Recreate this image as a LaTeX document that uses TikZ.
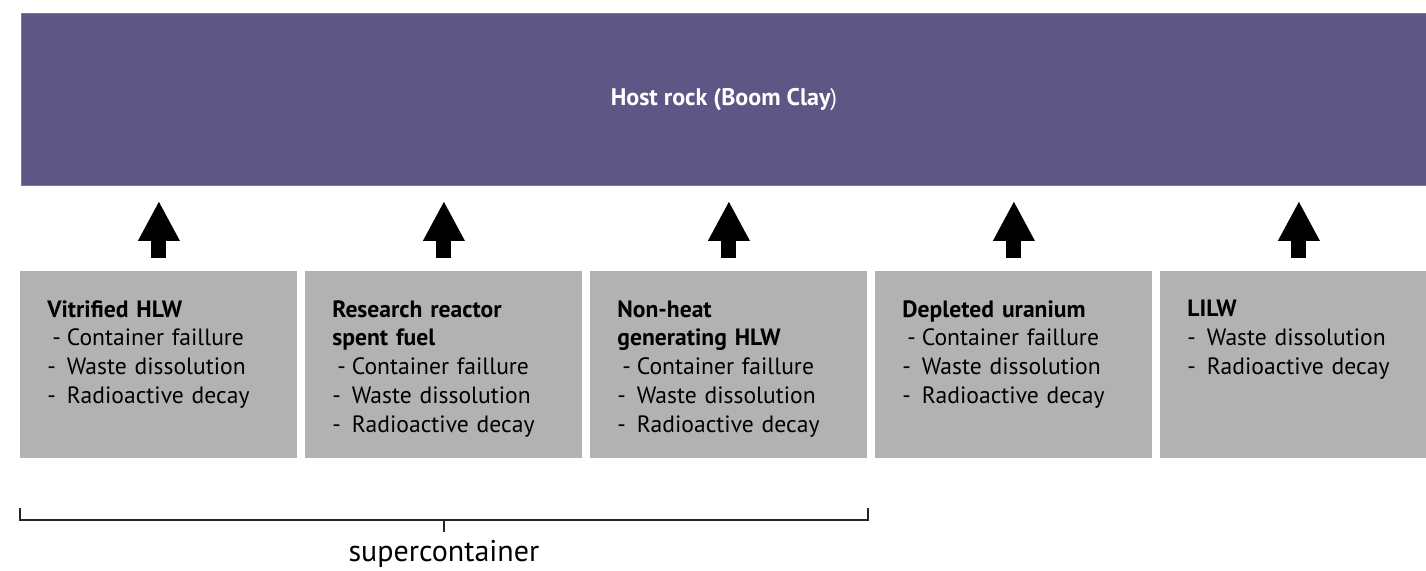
\documentclass[tikz,border=0pt]{standalone}
\usepackage{fontspec}
\setmainfont{PT Sans}
\usetikzlibrary{arrows.meta,calc}

\definecolor{clay}{RGB}{94,86,133}
\definecolor{clayedge}{RGB}{125,118,160}
\definecolor{wastegray}{RGB}{178,178,178}

\tikzset{
  rock/.style={fill=clay, draw=clayedge, line width=0.5pt, text=white,
    font=\fontsize{12}{14.4}\selectfont\bfseries,
    minimum width=702.5pt, minimum height=86pt, anchor=north west, inner sep=0pt},
  wastebox/.style={fill=wastegray, minimum width=138.5pt, minimum height=93.5pt,
    anchor=north west, inner sep=0pt},
  wastetext/.style={anchor=north west, align=left, inner sep=0pt, text width=125pt,
    font=\fontsize{11.8}{14.4}\selectfont},
  uparrow/.style={line width=7.5pt, -{Triangle[width=19.5pt,length=20pt]},
    shorten <=6.5pt, shorten >=7.5pt},
  bracket/.style={line width=0.9pt, black!85},
}
\newcommand\firstitem[1]{\hspace*{2.5pt}-\hspace{3pt}#1}
\newcommand\nextitem[1]{-\hspace{5.5pt}#1}

\begin{document}
\begin{tikzpicture}[x=0.5pt, y=-0.5pt]
\path[use as bounding box, clip] (0,0) rectangle (1426,571);
% host rock:
\node[rock] (rock) at (21,13) {Host rock (Boom Clay\mdseries)};
% waste boxes:
\node[wastebox] (vit) at (20,271) {};
\node[wastebox] (rrsf) at (305,271) {};
\node[wastebox] (nhg) at (590,271) {};
\node[wastebox] (du) at (875,271) {};
\node[wastebox] (lilw) at (1160,271) {};
% box texts:
\node[wastetext] (vittxt) at ([shift={(27,29)}]vit.north west)
  {{\bfseries Vitrified HLW}\\ \firstitem{Container faillure}\\ \nextitem{Waste dissolution}\\ \nextitem{Radioactive decay}};
\node[wastetext] (rrsftxt) at ([shift={(27,29)}]rrsf.north west)
  {{\bfseries Research reactor\\ spent fuel}\\ \firstitem{Container faillure}\\ \nextitem{Waste dissolution}\\ \nextitem{Radioactive decay}};
\node[wastetext] (nhgtxt) at ([shift={(27,29)}]nhg.north west)
  {{\bfseries Non-heat\\ generating HLW}\\ \firstitem{Container faillure}\\ \nextitem{Waste dissolution}\\ \nextitem{Radioactive decay}};
\node[wastetext] (dutxt) at ([shift={(27,29)}]du.north west)
  {{\bfseries Depleted uranium}\\ \firstitem{Container faillure}\\ \nextitem{Waste dissolution}\\ \nextitem{Radioactive decay}};
\node[wastetext] (lilwtxt) at ([shift={(27,29)}]lilw.north west)
  {{\bfseries LILW}\\ \nextitem{Waste dissolution}\\ \nextitem{Radioactive decay}};
% arrows up to the host rock:
\foreach \b in {vit,rrsf,nhg,du,lilw}
  \draw[uparrow] (\b.north) -- (\b.north |- rock.south);
% supercontainer bracket:
\coordinate (scl) at ([shift={(0,61)}]vit.south west);
\coordinate (scr) at ([shift={(0,61)}]nhg.south east);
\coordinate (scm) at ($(scl)!0.5!(scr)$);
\draw[bracket] ([shift={(0,-12)}]scl) -- (scl) -- (scr) -- ([shift={(0,-12)}]scr);
\draw[bracket] (scm) -- ([shift={(0,12)}]scm);
\node[font=\fontsize{15}{18}\selectfont, anchor=base, inner sep=0pt] (sc)
  at ([shift={(0,42)}]scm) {supercontainer};
\end{tikzpicture}
\end{document}
